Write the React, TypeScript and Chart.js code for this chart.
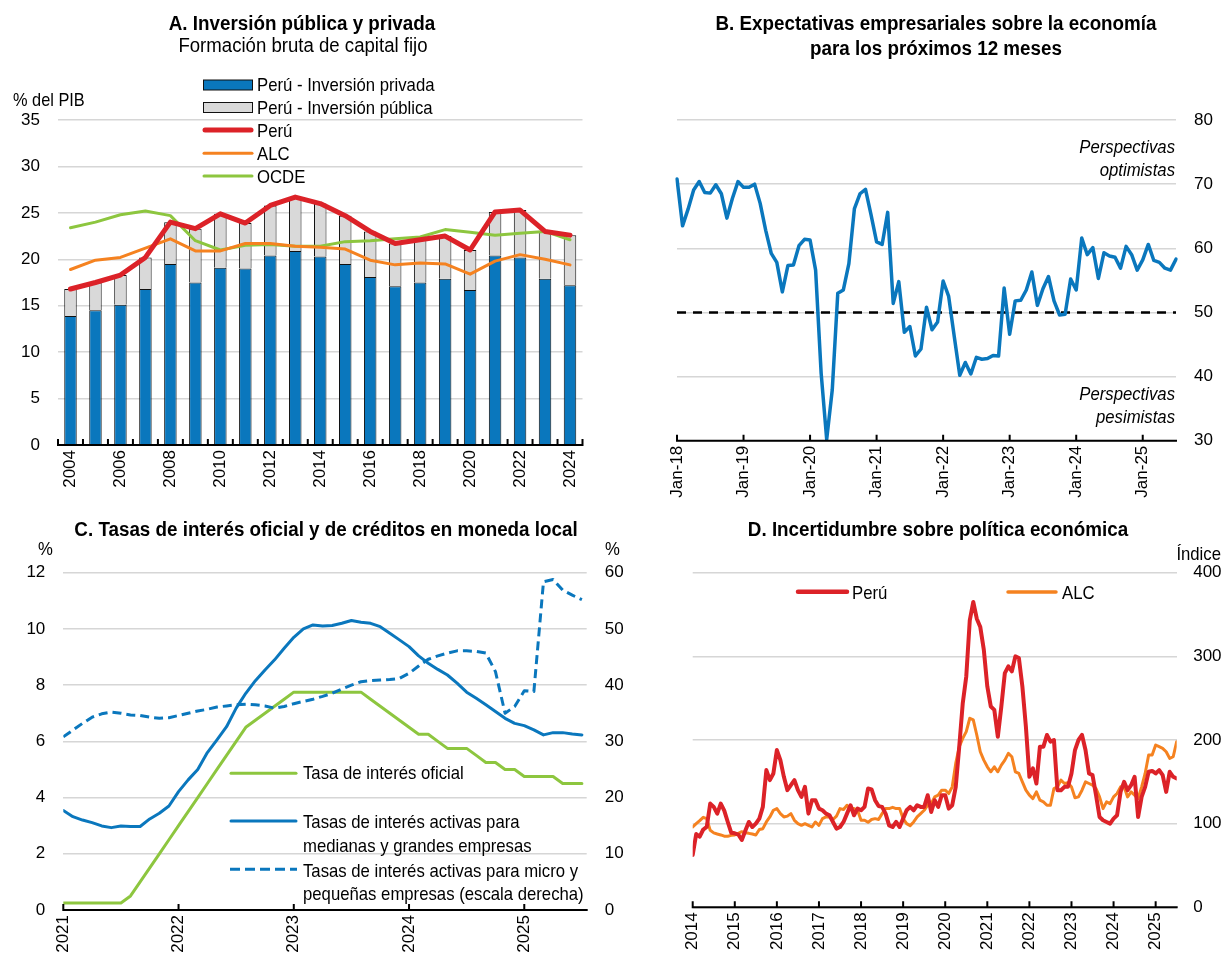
import React, { useEffect, useRef } from 'react';
import { Chart, registerables } from 'chart.js';

Chart.register(...registerables);

const FONT = "'Liberation Sans Narrow', 'Arial Narrow', 'Liberation Sans', Arial, sans-serif";
Chart.defaults.font.family = FONT;
Chart.defaults.color = '#000';

const BLUE = '#0A77BD';
const RED = '#DC2228';
const ORANGE = '#F58220';
const GREEN = '#8DC63F';
const GRAY = '#D9D9D9';
const GRID = '#D6D6D6';

// ---------- Panel A ----------
const yearsA = ['2004','2005','2006','2007','2008','2009','2010','2011','2012','2013','2014','2015','2016','2017','2018','2019','2020','2021','2022','2023','2024'];
const privadaA = [13.9, 14.5, 15.1, 16.8, 19.5, 17.5, 19.1, 19.0, 20.4, 20.9, 20.3, 19.5, 18.1, 17.1, 17.5, 17.9, 16.7, 20.4, 20.2, 17.9, 17.2];
const publicaA = [2.9, 3.0, 3.2, 3.4, 4.5, 5.8, 5.8, 4.9, 5.4, 5.8, 5.7, 5.2, 4.9, 4.6, 4.6, 4.6, 4.3, 4.7, 5.1, 5.1, 5.4];
const peruA = [16.8, 17.5, 18.3, 20.2, 24.0, 23.3, 24.9, 23.9, 25.8, 26.7, 26.0, 24.7, 23.0, 21.7, 22.1, 22.5, 21.0, 25.1, 25.3, 23.0, 22.6];
const alcA = [18.9, 19.9, 20.2, 21.2, 22.2, 20.9, 20.9, 21.7, 21.7, 21.4, 21.3, 21.1, 19.9, 19.4, 19.6, 19.5, 18.4, 19.8, 20.5, 20.0, 19.4];
const ocdeA = [23.4, 24.0, 24.8, 25.2, 24.7, 22.0, 21.0, 21.5, 21.6, 21.4, 21.4, 21.9, 22.0, 22.2, 22.4, 23.2, 22.9, 22.6, 22.8, 23.0, 22.1];

// ---------- Panel B ----------
const monNames = ['Jan','Feb','Mar','Apr','May','Jun','Jul','Aug','Sep','Oct','Nov','Dec'];
const expectB = [
  70.8, 63.5, 66.1, 69.1, 70.4, 68.7, 68.6, 69.9, 68.5, 64.7, 67.8, 70.4,
  69.5, 69.5, 70.0, 67.0, 62.8, 59.2, 57.8, 53.2, 57.3, 57.4, 60.4, 61.4,
  61.3, 56.6, 40.5, 30.2, 37.9, 53.0, 53.5, 57.6, 66.2, 68.5, 69.2, 65.2,
  61.0, 60.6, 65.6, 51.4, 54.8, 46.9, 47.8, 43.2, 44.3, 50.8, 47.3, 48.5,
  54.9, 52.5, 46.3, 40.2, 42.2, 40.4, 43.0, 42.7, 42.8, 43.3, 43.2, 53.8,
  46.6, 51.8, 51.9, 53.5, 56.3, 51.1, 53.7, 55.6, 51.8, 49.6, 49.7, 55.2,
  53.5, 61.6, 59.0, 60.1, 55.3, 59.3, 58.8, 58.6, 56.9, 60.3, 59.0, 56.6,
  58.2, 60.6, 58.1, 57.8, 56.9, 56.6, 58.3
];
const monthsB = expectB.map((_, i) => `${monNames[i % 12]}-${String(18 + Math.floor(i / 12))}`);
const thresholdB = 50;

// ---------- Panel C ----------
const yearTicksC = ['2021', '2022', '2023', '2024', '2025'];
const oficialC = [
  0.25, 0.25, 0.25, 0.25, 0.25, 0.25, 0.25, 0.5, 1.0, 1.5, 2.0, 2.5,
  3.0, 3.5, 4.0, 4.5, 5.0, 5.5, 6.0, 6.5, 6.75, 7.0, 7.25, 7.5,
  7.75, 7.75, 7.75, 7.75, 7.75, 7.75, 7.75, 7.75, 7.5, 7.25, 7.0, 6.75,
  6.5, 6.25, 6.25, 6.0, 5.75, 5.75, 5.75, 5.5, 5.25, 5.25, 5.0, 5.0,
  4.75, 4.75, 4.75, 4.75, 4.5, 4.5, 4.5
];
const grandesC = [
  3.54, 3.32, 3.2, 3.11, 2.99, 2.93, 2.99, 2.97, 2.97, 3.24, 3.44, 3.7,
  4.21, 4.63, 5.0, 5.6, 6.05, 6.52, 7.18, 7.71, 8.16, 8.54, 8.9, 9.31,
  9.7, 10.0, 10.14, 10.1, 10.12, 10.2, 10.3, 10.24, 10.2, 10.08, 9.85, 9.61,
  9.37, 9.04, 8.78, 8.56, 8.36, 8.07, 7.75, 7.53, 7.3, 7.06, 6.82, 6.64,
  6.56, 6.41, 6.23, 6.31, 6.31, 6.26, 6.23
];
const microC = [
  30.8, 32.0, 33.2, 34.3, 34.9, 35.2, 35.0, 34.7, 34.6, 34.3, 34.1, 34.2,
  34.6, 35.0, 35.4, 35.7, 36.1, 36.3, 36.5, 36.6, 36.5, 36.3, 35.9, 36.2,
  36.7, 37.1, 37.5, 38.0, 38.55, 39.3, 40.0, 40.6, 40.8, 40.9, 41.0, 41.2,
  42.1, 43.4, 44.6, 45.2, 45.7, 46.1, 46.1, 46.0, 45.7, 42.4, 35.0, 36.2,
  39.0, 38.85, 58.4, 58.8, 56.9, 56.0, 55.2
];

// ---------- Panel D ----------
const yearTicksD = ['2014','2015','2016','2017','2018','2019','2020','2021','2022','2023','2024','2025'];
const peruD = [
  62.5, 87.6, 84.5, 93, 96, 124, 120, 112, 124, 115.5, 102, 89,
  88.4, 87, 80.5, 91.6, 102, 96, 100, 106, 120, 164, 152, 160,
  188, 176, 156, 140, 146, 152, 140, 132, 144, 112, 128, 128,
  118, 116, 112, 110, 102, 94, 96, 102, 112, 122, 110, 118,
  116, 120, 142, 141, 128, 121, 120, 112, 98, 96, 102, 96,
  106, 116, 120, 116, 122, 120, 120, 134, 114, 128, 120, 134,
  134, 118, 122, 144, 192, 244, 276, 343, 365, 345, 335, 308,
  264, 240, 236, 204, 240, 280, 288, 282, 300, 298, 264, 216,
  156, 166, 148, 192, 192, 206, 198, 200, 140, 140, 144, 144,
  160, 188, 200, 206, 188, 160, 158, 134, 108, 104, 102, 100,
  106, 110, 138, 150, 140, 146, 156, 108, 132, 144, 162, 163,
  160, 164, 158, 138, 162, 156, 154
];
const alcD = [
  96, 100, 103.6, 107.6, 106, 92, 89, 87.6, 86.5, 85, 85, 86,
  86.5, 88.4, 90.4, 89, 88.4, 87.6, 86.5, 93, 94, 102, 108, 116,
  118, 112, 108, 109, 112, 104, 100, 98, 100, 98, 96, 102,
  98, 106, 108, 108, 105, 109, 118, 117, 122, 118, 118, 116,
  104, 104, 101.6, 105, 106, 105, 112, 118, 118, 119.5, 118, 118,
  106, 100, 97.6, 102, 108, 112, 116, 122, 124, 132, 134, 140,
  140, 136, 144, 172, 192, 202, 210, 226, 224, 206, 186, 176,
  168, 162, 168, 162, 170, 176, 184, 180, 162, 160, 150, 140,
  134, 130, 138, 128, 126, 122, 122, 142, 144, 152, 148, 149,
  144, 131, 132, 140, 150, 148, 146, 142, 132, 118, 126, 124,
  132, 136, 144, 144, 132, 138, 134, 130, 144, 160, 182, 182,
  194, 192, 190, 186, 178, 180, 198
];

// ---------- plugin: baseline, inward ticks, optional dashed reference line ----------
const axisDeco = {
  id: 'axisDeco',
  beforeDatasetsDraw(chart: any, _args: any, opts: any) {
    if (!opts || opts.hLine === undefined) return;
    const { ctx, chartArea } = chart;
    const y = chart.scales.y.getPixelForValue(opts.hLine);
    ctx.save();
    ctx.strokeStyle = '#000';
    ctx.lineWidth = 2.5;
    ctx.setLineDash([9, 7]);
    ctx.beginPath();
    ctx.moveTo(chartArea.left, y);
    ctx.lineTo(chartArea.right, y);
    ctx.stroke();
    ctx.restore();
  },
  afterDatasetsDraw(chart: any, _args: any, opts: any) {
    if (!opts || !opts.ticks) return;
    const { ctx, chartArea } = chart;
    const xs = chart.scales.x;
    ctx.save();
    ctx.strokeStyle = '#000';
    ctx.lineWidth = 2;
    ctx.beginPath();
    ctx.moveTo(chartArea.left - 1, chartArea.bottom);
    ctx.lineTo(chartArea.right + 1, chartArea.bottom);
    opts.ticks.forEach((v: number) => {
      const p = xs.getPixelForValue(v);
      ctx.moveTo(p, chartArea.bottom);
      ctx.lineTo(p, chartArea.bottom - 6);
    });
    ctx.stroke();
    ctx.restore();
  },
};
Chart.register(axisDeco);

const tickFont = { size: 17, family: FONT };

function ChartBox({ config, left, top, width, height }: any) {
  const ref = useRef<HTMLCanvasElement>(null);
  useEffect(() => {
    const chart = new Chart(ref.current as HTMLCanvasElement, config);
    return () => chart.destroy();
  }, []);
  return (
    <canvas
      ref={ref}
      width={width}
      height={height}
      style={{ position: 'absolute', left, top, width, height }}
    />
  );
}

function lineDs(label: string, data: any[], color: string, width: number, extra: any = {}) {
  return {
    type: 'line',
    label,
    data,
    borderColor: color,
    backgroundColor: color,
    borderWidth: width,
    pointRadius: 0,
    tension: 0,
    fill: false,
    borderJoinStyle: 'round',
    borderCapStyle: 'round',
    ...extra,
  };
}

const basePlugins = (deco: any) => ({
  legend: { display: false },
  tooltip: { enabled: false },
  axisDeco: deco,
});

// Panel A config
const configA: any = {
  type: 'bar',
  data: {
    labels: yearsA,
    datasets: [
      lineDs('Perú', peruA, RED, 5, { order: 0, stack: 'l1' }),
      lineDs('ALC', alcA, ORANGE, 3, { order: 1, stack: 'l2' }),
      lineDs('OCDE', ocdeA, GREEN, 3, { order: 2, stack: 'l3' }),
      { type: 'bar', label: 'Perú - Inversión privada', data: privadaA, backgroundColor: BLUE, borderColor: '#111', borderWidth: 1, stack: 'b', order: 10, barPercentage: 0.5, categoryPercentage: 1 },
      { type: 'bar', label: 'Perú - Inversión pública', data: publicaA, backgroundColor: GRAY, borderColor: '#111', borderWidth: 1, stack: 'b', order: 10, barPercentage: 0.5, categoryPercentage: 1 },
    ],
  },
  options: {
    responsive: false,
    animation: false,
    layout: { padding: { left: 0, right: 30.5, top: 120, bottom: 0 } },
    plugins: basePlugins({ ticks: yearsA.map((_, i) => i - 0.5).concat([yearsA.length - 0.5]) }),
    scales: {
      x: {
        stacked: true,
        grid: { display: false, drawTicks: false },
        border: { display: false },
        ticks: {
          autoSkip: false, maxRotation: 90, minRotation: 90, padding: 5, font: tickFont,
          callback: (_v: any, i: number) => (i % 2 === 0 ? yearsA[i] : ''),
        },
        afterFit: (s: any) => { s.height = 75; },
      },
      y: {
        stacked: true, min: 0, max: 35,
        ticks: { stepSize: 5, padding: 18, font: tickFont },
        grid: { color: GRID, lineWidth: 1.5, drawTicks: false },
        border: { display: false },
        afterFit: (s: any) => { s.width = 58; },
      },
    },
  },
};

// Panel B config
const configB: any = {
  type: 'line',
  data: {
    labels: monthsB,
    datasets: [lineDs('Expectativas', expectB, BLUE, 3.5)],
  },
  options: {
    responsive: false,
    animation: false,
    layout: { padding: { left: 64, right: 0, top: 120, bottom: 0 } },
    plugins: basePlugins({ ticks: monthsB.map((_, i) => i).filter((i) => i % 12 === 0), hLine: thresholdB }),
    scales: {
      x: {
        grid: { display: false, drawTicks: false },
        border: { display: false },
        ticks: {
          autoSkip: false, maxRotation: 90, minRotation: 90, padding: 5, font: tickFont,
          callback: (_v: any, i: number) => (i % 12 === 0 ? monthsB[i] : ''),
        },
        afterFit: (s: any) => { s.height = 79.3; },
      },
      y: {
        position: 'right', min: 30, max: 80,
        ticks: { stepSize: 10, padding: 18, font: tickFont },
        grid: { color: GRID, lineWidth: 1.5, drawTicks: false },
        border: { display: false },
        afterFit: (s: any) => { s.width = 50; },
      },
    },
  },
};

// Panel C config
const xy = (arr: number[]) => arr.map((v, i) => ({ x: i, y: v }));
const configC: any = {
  type: 'line',
  data: {
    datasets: [
      lineDs('Tasa de interés oficial', xy(oficialC), GREEN, 3, { order: 2 }),
      lineDs('Tasas medianas y grandes', xy(grandesC), BLUE, 3, { order: 0 }),
      lineDs('Tasas micro y pequeñas', xy(microC), BLUE, 3, { order: 1, yAxisID: 'y1', borderDash: [9, 5], borderCapStyle: 'butt' }),
    ],
  },
  options: {
    responsive: false,
    animation: false,
    layout: { padding: { left: 0, right: 0, top: 82.7, bottom: 0 } },
    plugins: basePlugins({ ticks: [0, 12, 24, 36, 48] }),
    scales: {
      x: {
        type: 'linear', min: 0, max: 54.5,
        grid: { display: false, drawTicks: false },
        border: { display: false },
        afterBuildTicks: (s: any) => { s.ticks = [0, 12, 24, 36, 48].map((v) => ({ value: v })); },
        ticks: {
          autoSkip: false, maxRotation: 90, minRotation: 90, padding: 5, font: tickFont,
          callback: (v: any) => yearTicksC[Math.round(v / 12)] ?? '',
        },
        afterFit: (s: any) => { s.height = 44; },
      },
      y: {
        position: 'left', min: 0, max: 12,
        ticks: { stepSize: 2, padding: 18, font: tickFont },
        grid: { color: GRID, lineWidth: 1.5, drawTicks: false },
        border: { display: false },
        afterFit: (s: any) => { s.width = 63.3; },
      },
      y1: {
        position: 'right', min: 0, max: 60,
        ticks: { stepSize: 10, padding: 18, font: tickFont },
        grid: { display: false, drawTicks: false },
        border: { display: false },
        afterFit: (s: any) => { s.width = 43.3; },
      },
    },
  },
};

// Panel D config
const configD: any = {
  type: 'line',
  data: {
    datasets: [
      lineDs('Perú', xy(peruD), RED, 4, { order: 0 }),
      lineDs('ALC', xy(alcD), ORANGE, 3, { order: 1 }),
    ],
  },
  options: {
    responsive: false,
    animation: false,
    layout: { padding: { left: 79.7, right: 0, top: 82.7, bottom: 0 } },
    plugins: basePlugins({ ticks: yearTicksD.map((_, i) => i * 12) }),
    scales: {
      x: {
        type: 'linear', min: 0, max: 138,
        grid: { display: false, drawTicks: false },
        border: { display: false },
        afterBuildTicks: (s: any) => { s.ticks = yearTicksD.map((_, i) => ({ value: i * 12 })); },
        ticks: {
          autoSkip: false, maxRotation: 90, minRotation: 90, padding: 5, font: tickFont,
          callback: (v: any) => yearTicksD[Math.round(v / 12)] ?? '',
        },
        afterFit: (s: any) => { s.height = 46.7; },
      },
      y: {
        position: 'right', min: 0, max: 400,
        ticks: { stepSize: 100, padding: 16.5, font: tickFont },
        grid: { color: GRID, lineWidth: 1.5, drawTicks: false },
        border: { display: false },
        afterFit: (s: any) => { s.width = 49.3; },
      },
    },
  },
};

type TP = { x: number; y: number; children: React.ReactNode; align?: 'left' | 'center' | 'right'; bold?: boolean; italic?: boolean; size?: number; k?: number };
function Txt({ x, y, children, align = 'left', bold, italic, size, k }: TP) {
  const fs = size ?? (bold ? 20 : 19);
  const sx = k ?? (bold ? 0.94 : 0.88);
  const lh = Math.round(fs * 1.2);
  const tx = align === 'center' ? '-50%' : align === 'right' ? '-100%' : '0';
  const origin = align === 'center' ? 'center center' : align === 'right' ? 'right center' : 'left center';
  return (
    <div
      style={{
        position: 'absolute', left: x, top: y - lh / 2, lineHeight: lh + 'px', fontSize: fs,
        fontFamily: FONT, fontWeight: bold ? 700 : 400, fontStyle: italic ? 'italic' : 'normal',
        whiteSpace: 'nowrap', transform: `translateX(${tx}) scaleX(${sx})`, transformOrigin: origin, color: '#000',
      }}
    >
      {children}
    </div>
  );
}

export default function App() {
  return (
    <div style={{ position: 'relative', width: 1226, height: 954, background: '#fff', overflow: 'hidden' }}>
      <style>{'body{margin:0;background:#fff}'}</style>
      <ChartBox config={configA} left={0} top={0} width={613} height={520} />
      <ChartBox config={configB} left={613} top={0} width={613} height={520} />
      <ChartBox config={configC} left={0} top={490} width={630} height={464} />
      <ChartBox config={configD} left={613} top={490} width={613} height={464} />

      {/* Panel A texts */}
      <Txt x={302} y={22.7} align="center" bold>A. Inversión pública y privada</Txt>
      <Txt x={302.5} y={44.5} align="center" size={20} k={0.93}>Formación bruta de capital fijo</Txt>
      <Txt x={12.7} y={99} k={0.86}>% del PIB</Txt>
      <Txt x={257} y={84}>Perú - Inversión privada</Txt>
      <Txt x={257} y={107}>Perú - Inversión pública</Txt>
      <Txt x={257} y={130}>Perú</Txt>
      <Txt x={257} y={153}>ALC</Txt>
      <Txt x={257} y={176}>OCDE</Txt>

      {/* Panel B texts */}
      <Txt x={936} y={22.7} align="center" bold>B. Expectativas empresariales sobre la economía</Txt>
      <Txt x={936} y={47.7} align="center" bold>para los próximos 12 meses</Txt>
      <Txt x={1175} y={146.7} align="right" italic>Perspectivas</Txt>
      <Txt x={1175} y={169.3} align="right" italic>optimistas</Txt>
      <Txt x={1175} y={393} align="right" italic>Perspectivas</Txt>
      <Txt x={1175} y={416.7} align="right" italic>pesimistas</Txt>

      {/* Panel C texts */}
      <Txt x={326} y={529} align="center" bold>C. Tasas de interés oficial y de créditos en moneda local</Txt>
      <Txt x={37.5} y={548}>%</Txt>
      <Txt x={605} y={548}>%</Txt>
      <Txt x={302.7} y={772.5}>Tasa de interés oficial</Txt>
      <Txt x={302.7} y={821.7}>Tasas de interés activas para</Txt>
      <Txt x={302.7} y={845}>medianas y grandes empresas</Txt>
      <Txt x={302.7} y={870.7}>Tasas de interés activas para micro y</Txt>
      <Txt x={302.7} y={893.3}>pequeñas empresas (escala derecha)</Txt>

      {/* Panel D texts */}
      <Txt x={938} y={529} align="center" bold>D. Incertidumbre sobre política económica</Txt>
      <Txt x={1221} y={553} align="right">Índice</Txt>
      <Txt x={851.7} y={592}>Perú</Txt>
      <Txt x={1061.7} y={592}>ALC</Txt>

      {/* Legend symbols */}
      <svg width={1226} height={954} style={{ position: 'absolute', left: 0, top: 0, pointerEvents: 'none' }}>
        <rect x={203.5} y={80} width={49} height={10} fill={BLUE} stroke="#111" strokeWidth={1} />
        <rect x={203.5} y={102.5} width={49} height={10} fill={GRAY} stroke="#111" strokeWidth={1} />
        <line x1={205} y1={130} x2={251} y2={130} stroke={RED} strokeWidth={5} strokeLinecap="round" />
        <line x1={204} y1={153.3} x2={252} y2={153.3} stroke={ORANGE} strokeWidth={3} strokeLinecap="round" />
        <line x1={204} y1={176} x2={252} y2={176} stroke={GREEN} strokeWidth={3} strokeLinecap="round" />

        <line x1={231} y1={773.3} x2={296} y2={773.3} stroke={GREEN} strokeWidth={3} strokeLinecap="round" />
        <line x1={231} y1={821} x2={296} y2={821} stroke={BLUE} strokeWidth={3} strokeLinecap="round" />
        <line x1={230} y1={869.3} x2={297} y2={869.3} stroke={BLUE} strokeWidth={3} strokeDasharray="10 5" />

        <line x1={798} y1={591.7} x2={847} y2={591.7} stroke={RED} strokeWidth={4.5} strokeLinecap="round" />
        <line x1={1008} y1={592} x2={1056} y2={592} stroke={ORANGE} strokeWidth={3.5} strokeLinecap="round" />
      </svg>
    </div>
  );
}
